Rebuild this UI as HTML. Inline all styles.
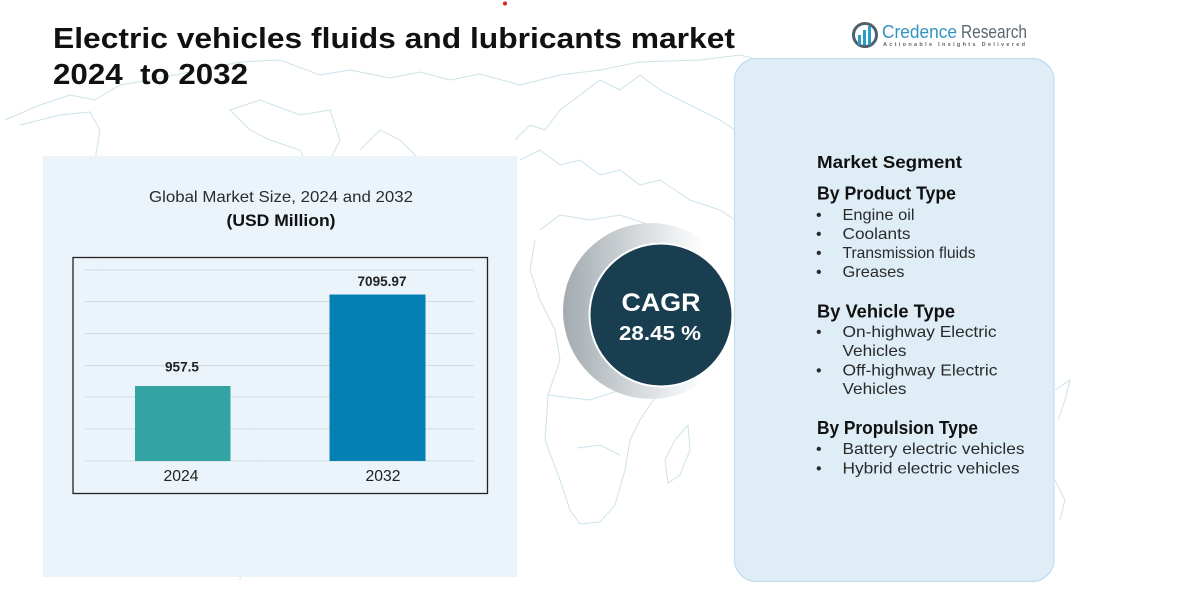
<!DOCTYPE html>
<html><head><meta charset="utf-8"><style>
html,body{margin:0;padding:0;background:#fff;}
svg{display:block;}
text{font-family:"Liberation Sans",sans-serif;}
</style></head><body>
<svg width="1192" height="597" viewBox="0 0 1192 597" xmlns="http://www.w3.org/2000/svg">
<defs>
<linearGradient id="ring" x1="0" y1="0" x2="1" y2="0">
<stop offset="0" stop-color="#a3abb0"/>
<stop offset="0.45" stop-color="#d8dcdf"/>
<stop offset="0.8" stop-color="#ffffff"/>
</linearGradient>
</defs>
<rect width="1192" height="597" fill="#fff"/>
<!-- faint map outlines -->
<g fill="none" stroke="#b7d8e2" stroke-width="1" opacity="0.7">
<path d="M5,120 L40,105 L70,95 L95,100 L120,85 L150,80 L200,70 L240,62 L280,60 L320,75 L350,70 L390,78 L420,72 L450,80 L480,74 L520,85 L560,75 L600,70 L640,62 L700,60 L740,55 L760,60"/>
<path d="M20,125 L60,115 L90,112 L100,130 L95,160 L100,200 L92,240 L100,280 L130,300 L160,320 L200,345 L230,380 L250,420 L260,470 L245,520 L240,580"/>
<path d="M230,110 L260,100 L300,115 L330,110 L340,140 L330,160 L310,170 L300,150 L270,140 L250,130 Z"/>
<path d="M360,150 L380,130 L400,140 L420,160 L440,175 L460,170 L480,160"/>
<path d="M515,140 L530,125 L545,130 L560,110 L580,95 L600,80 L620,90 L640,75 L660,90 L680,100 L700,110 L720,120 L735,130"/>
<path d="M520,160 L540,150 L560,165 L580,160 L600,175 L620,170 L640,185 L660,180 L690,200 L720,210 L735,220"/>
<path d="M540,230 L560,215 L590,220 L620,215 L650,225 L680,240 L690,270"/>
<path d="M535,240 L530,270 L540,300 L555,330 L560,360 L548,395 L545,440 L560,480 L570,510 L580,524 L600,522 L615,505 L625,470 L630,440 L640,420 L660,390"/>
<path d="M668,483 L665,460 L675,440 L688,425 L690,450 L680,475 Z"/>
<path d="M548,395 L590,400 L620,390 L640,380"/>
<path d="M577,448 L600,445 L620,455"/>
<path d="M1055,390 L1070,380 L1065,400 L1058,420"/>
<path d="M1055,480 L1065,500 L1060,520"/>
</g>
<!-- red dot -->
<circle cx="505" cy="3.5" r="2" fill="#e0201b"/>
<!-- title -->
<text x="53" y="48" font-size="28.5" font-weight="bold" fill="#111" textLength="682" lengthAdjust="spacingAndGlyphs">Electric vehicles fluids and lubricants market</text>
<text x="53" y="84" font-size="28.5" font-weight="bold" fill="#111" textLength="195" lengthAdjust="spacingAndGlyphs" xml:space="preserve">2024  to 2032</text>
<!-- logo -->
<g>
<circle cx="865" cy="35" r="11.5" fill="none" stroke="#4f5f6b" stroke-width="3"/>
<rect x="858" y="35" width="3" height="10" fill="#2a9cc6"/>
<rect x="863" y="30" width="3" height="15" fill="#2a9cc6"/>
<rect x="868" y="26" width="3" height="19" fill="#2a9cc6"/>
<text x="882" y="38" font-size="18" fill="#2f93bf" textLength="75" lengthAdjust="spacingAndGlyphs">Credence</text>
<text x="961" y="38" font-size="18" fill="#5b6770" textLength="66" lengthAdjust="spacingAndGlyphs">Research</text>
<text x="883" y="46" font-size="5.5" font-weight="bold" fill="#5b6770" textLength="142" lengthAdjust="spacing">Actionable Insights Delivered</text>
</g>
<!-- left panel -->
<rect x="43" y="156" width="474" height="421" fill="#e9f3fa" opacity="0.93"/>
<text x="281" y="202" font-size="16" fill="#2b2b2b" text-anchor="middle" textLength="264" lengthAdjust="spacingAndGlyphs">Global Market Size, 2024 and 2032</text>
<text x="281" y="226" font-size="17" font-weight="bold" fill="#111" text-anchor="middle" textLength="109" lengthAdjust="spacingAndGlyphs">(USD Million)</text>
<!-- chart box -->
<rect x="73" y="257.5" width="414.5" height="236" fill="none" stroke="#222" stroke-width="1.3"/>
<g stroke="#d3dbe0" stroke-width="1">
<line x1="85" y1="270" x2="474" y2="270"/>
<line x1="85" y1="301.5" x2="474" y2="301.5"/>
<line x1="85" y1="333.5" x2="474" y2="333.5"/>
<line x1="85" y1="365.5" x2="474" y2="365.5"/>
<line x1="85" y1="397" x2="474" y2="397"/>
<line x1="85" y1="429" x2="474" y2="429"/>
<line x1="85" y1="461" x2="474" y2="461"/>
</g>
<rect x="135" y="386" width="95.5" height="75" fill="#34a3a3"/>
<rect x="329.5" y="294.5" width="96" height="166.5" fill="#0680b2"/>
<text x="182" y="371.5" font-size="14" font-weight="bold" fill="#222" text-anchor="middle" textLength="34" lengthAdjust="spacingAndGlyphs">957.5</text>
<text x="382" y="286" font-size="14" font-weight="bold" fill="#222" text-anchor="middle" textLength="49" lengthAdjust="spacingAndGlyphs">7095.97</text>
<text x="181" y="481" font-size="16" fill="#222" text-anchor="middle" textLength="35" lengthAdjust="spacingAndGlyphs">2024</text>
<text x="383" y="481" font-size="16" fill="#222" text-anchor="middle" textLength="35" lengthAdjust="spacingAndGlyphs">2032</text>
<!-- CAGR -->
<circle cx="651" cy="311" r="88" fill="url(#ring)"/>
<circle cx="661" cy="315" r="72.5" fill="#ffffff"/>
<circle cx="661" cy="315" r="70.5" fill="#183e50"/>
<text x="661" y="311" font-size="25" font-weight="bold" fill="#fff" text-anchor="middle" textLength="79" lengthAdjust="spacingAndGlyphs">CAGR</text>
<text x="660" y="340" font-size="20" font-weight="bold" fill="#fff" text-anchor="middle" textLength="82" lengthAdjust="spacingAndGlyphs">28.45 %</text>
<!-- right panel -->
<rect x="734.5" y="58.5" width="319.5" height="523" rx="22" ry="22" fill="#deedf6" stroke="#c3deec" stroke-width="1.2"/>
<g fill="#111">
<text x="817" y="168" font-size="17.5" font-weight="bold" textLength="145" lengthAdjust="spacingAndGlyphs">Market Segment</text>
<text x="817" y="199.5" font-size="18" font-weight="bold" textLength="139" lengthAdjust="spacingAndGlyphs">By Product Type</text>
<text x="817" y="317.5" font-size="18" font-weight="bold" textLength="138" lengthAdjust="spacingAndGlyphs">By Vehicle Type</text>
<text x="817" y="434" font-size="18" font-weight="bold" textLength="161" lengthAdjust="spacingAndGlyphs">By Propulsion Type</text>
</g>
<g fill="#2a2a2a" font-size="16">
<text x="816" y="220">•</text><text x="842.5" y="220" textLength="72" lengthAdjust="spacingAndGlyphs">Engine oil</text>
<text x="816" y="239">•</text><text x="842.5" y="239" textLength="68" lengthAdjust="spacingAndGlyphs">Coolants</text>
<text x="816" y="258">•</text><text x="842.5" y="258" textLength="133" lengthAdjust="spacingAndGlyphs">Transmission fluids</text>
<text x="816" y="277">•</text><text x="842.5" y="277" textLength="62" lengthAdjust="spacingAndGlyphs">Greases</text>
<text x="816" y="337">•</text><text x="842.5" y="337" textLength="154" lengthAdjust="spacingAndGlyphs">On-highway Electric</text>
<text x="842.5" y="356" textLength="64" lengthAdjust="spacingAndGlyphs">Vehicles</text>
<text x="816" y="375.5">•</text><text x="842.5" y="375.5" textLength="155" lengthAdjust="spacingAndGlyphs">Off-highway Electric</text>
<text x="842.5" y="394" textLength="64" lengthAdjust="spacingAndGlyphs">Vehicles</text>
<text x="816" y="454">•</text><text x="842.5" y="454" textLength="182" lengthAdjust="spacingAndGlyphs">Battery electric vehicles</text>
<text x="816" y="473.5">•</text><text x="842.5" y="473.5" textLength="177" lengthAdjust="spacingAndGlyphs">Hybrid electric vehicles</text>
</g>
</svg>
</body></html>
